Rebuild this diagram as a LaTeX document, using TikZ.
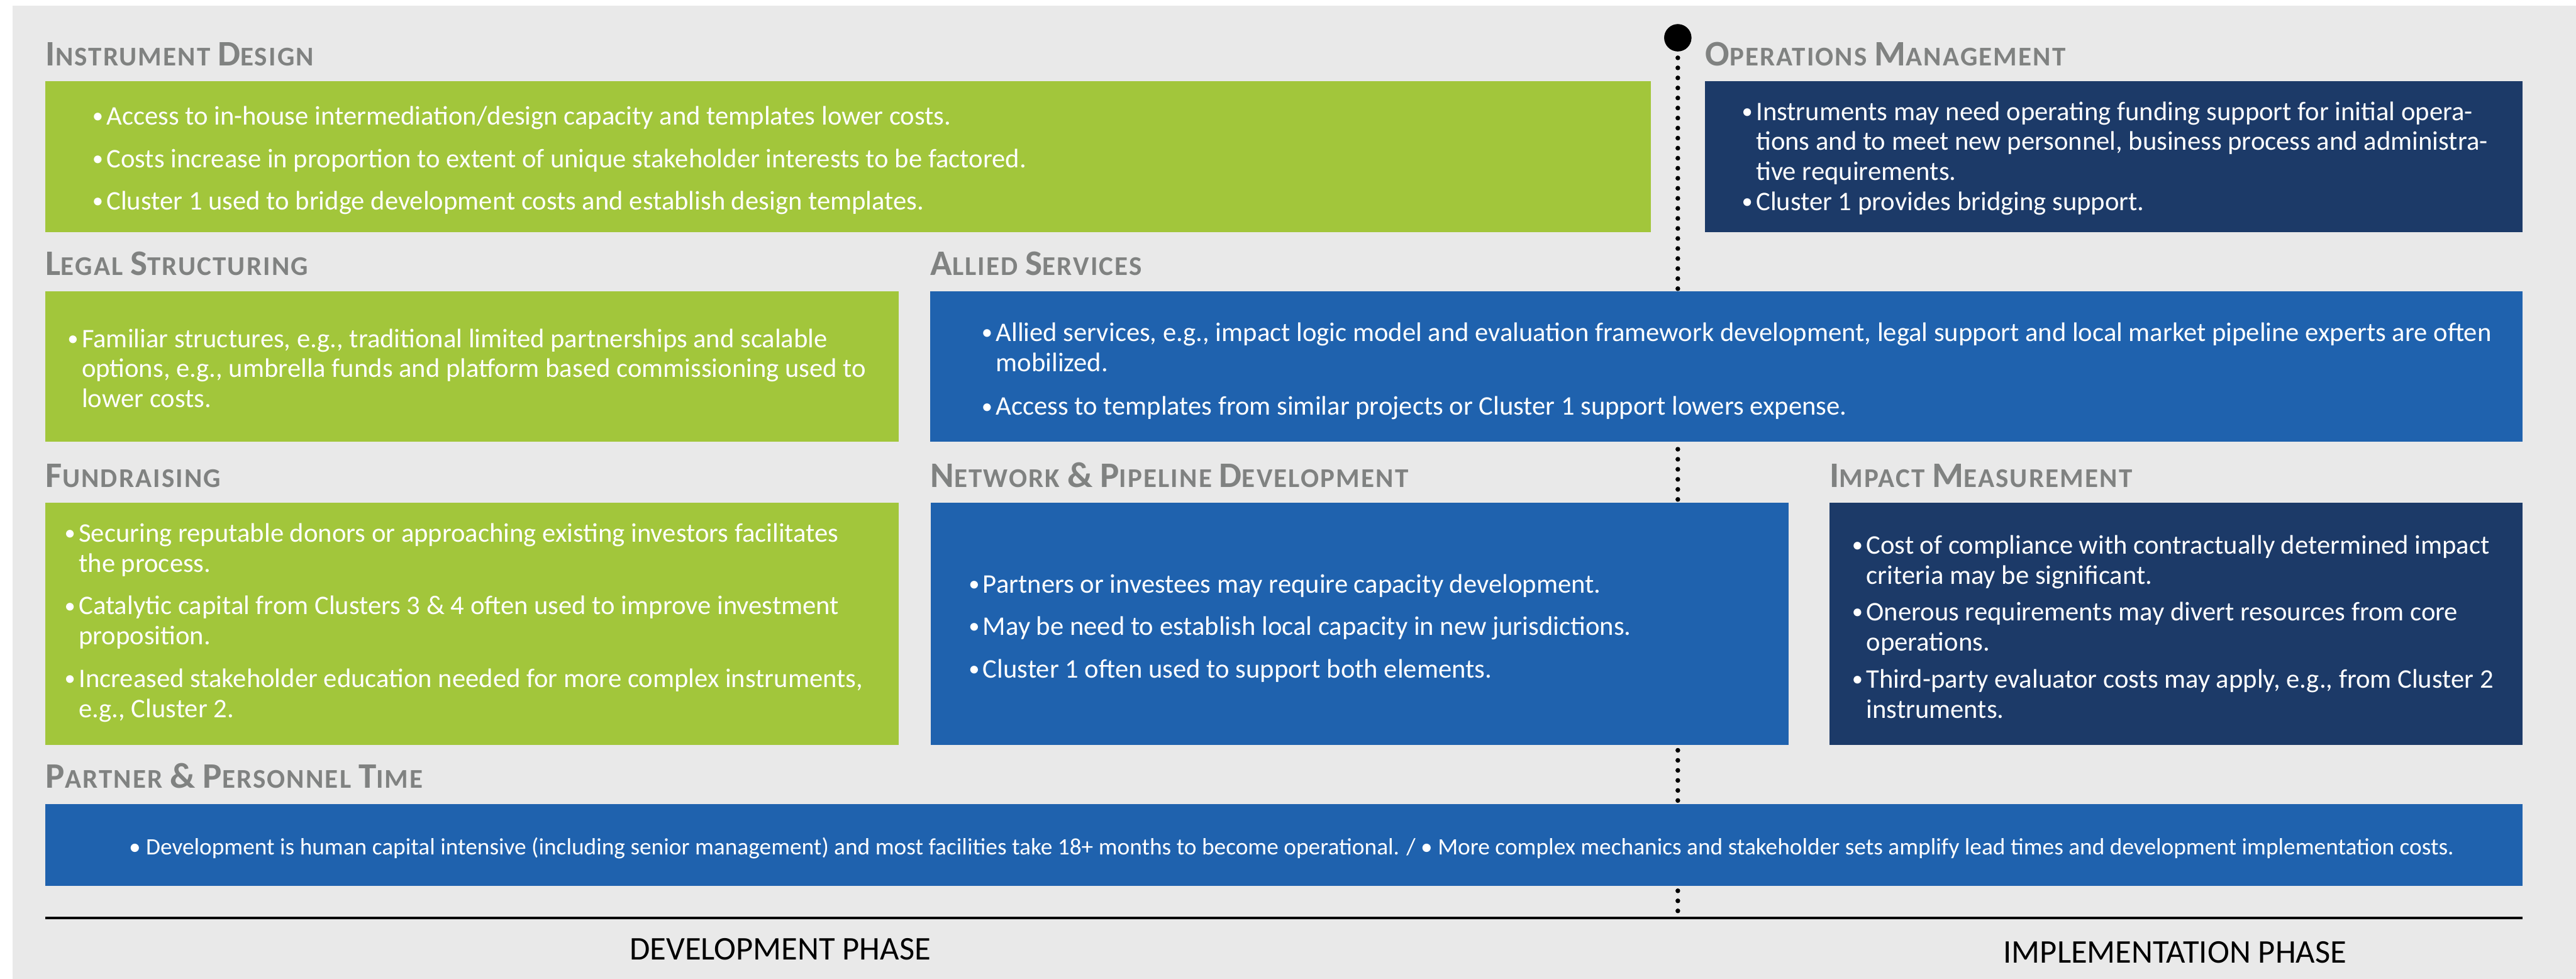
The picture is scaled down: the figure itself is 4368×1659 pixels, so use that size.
\documentclass[tikz,border=0pt]{standalone}
\usepackage{fontspec}
\setmainfont{Carlito}
\newfontfamily\headfont[LetterSpace=5.0]{Carlito}

\definecolor{canvas}{HTML}{E9E9E9}
\definecolor{leaf}{HTML}{A2C63B}
\definecolor{navy}{HTML}{1C3A68}
\definecolor{royal}{HTML}{1F62AE}
\definecolor{heading}{HTML}{808281}

% body text: white bullets with hanging indent
\newcommand\bodysize{\fontsize{12.93pt}{0.51cm}\selectfont}
\newcommand\bl{\makebox[0.3cm][c]{\raisebox{0.03cm}{\fontsize{10.5pt}{10pt}\selectfont •}}}
\newcommand\cont{\hspace*{0.3cm}}
\newcommand\fst{\rule{0pt}{0.4cm}}
% headings set as small capitals
\newcommand\headsize{\fontsize{13.05pt}{15pt}\selectfont}
\newcommand\hcap[1]{{\fontsize{17.3pt}{17pt}\selectfont #1}}

\tikzset{
  bodytext/.style={font=\bodysize, text=white, align=left, inner sep=0pt, anchor=north west},
  headtext/.style={font=\headfont\bfseries\headsize, text=heading, inner sep=0pt, anchor=base west},
  phase/.style={font=\fontsize{15.95pt}{18pt}\selectfont, text=black, inner sep=0pt, anchor=base},
  timeline/.style={line width=0.08cm, dash pattern=on 0pt off 0.17cm, line cap=round},
  milestone/.style={circle, fill=black, minimum size=0.46cm, inner sep=0pt},
}

\begin{document}
\begin{tikzpicture}[x=0.01cm, y=-0.01cm]
\useasboundingbox (0,0) rectangle (4368,1659);
\fill[canvas] (21,10) rectangle (4368,1659);

% phase divider, behind the panels
\coordinate (axis-l) at (77,1556);
\coordinate (axis-r) at (4277,1556);
\coordinate (divide-end) at (2845,1556);
\node[milestone] (divide-start) at (2845,64) {};
\draw[timeline] (divide-start.center) -- (divide-end);

% panels
\fill[leaf]  (77,138)   rectangle (2799,393);
\fill[navy]  (2891,138) rectangle (4277,393);
\fill[leaf]  (77,494)   rectangle (1524,749);
\fill[royal] (1577,494) rectangle (4277,749);
\fill[leaf]  (77,852)   rectangle (1524,1263);
\fill[royal] (1578,852) rectangle (3033,1263);
\fill[navy]  (3102,852) rectangle (4277,1263);
\fill[royal] (77,1363)  rectangle (4277,1502);

% milestone dot on top
\node[milestone] (divide-dot) at (divide-start) {};

% headings
\node[headtext] (h-inst)    at (77,111)   {\hcap{I}NSTRUMENT \hcap{D}ESIGN};
\node[headtext] (h-ops)     at (2891,111) {\hcap{O}PERATIONS \hcap{M}ANAGEMENT};
\node[headtext] (h-legal)   at (77,467)   {\hcap{L}EGAL \hcap{S}TRUCTURING};
\node[headtext] (h-allied)  at (1577,467) {\hcap{A}LLIED \hcap{S}ERVICES};
\node[headtext] (h-fund)    at (77,826)   {\hcap{F}UNDRAISING};
\node[headtext] (h-net)     at (1577,826) {\hcap{N}ETWORK \hcap{\&} \hcap{P}IPELINE \hcap{D}EVELOPMENT};
\node[headtext] (h-impact)  at (3102,826) {\hcap{I}MPACT \hcap{M}EASUREMENT};
\node[headtext] (h-partner) at (77,1336)  {\hcap{P}ARTNER \hcap{\&} \hcap{P}ERSONNEL \hcap{T}IME};

% panel texts
\node[bodytext] (t-inst) at (150,171) {%
\fst\bl Access to in-house intermediation/design capacity and templates lower costs.\\[0.21cm]
\bl Costs increase in proportion to extent of unique stakeholder interests to be factored.\\[0.21cm]
\bl Cluster 1 used to bridge development costs and establish design templates.};

\node[bodytext] (t-ops) at (2947,163) {%
\fst\bl Instruments may need operating funding support for initial opera-\\
\cont tions and to meet new personnel, business process and administra-\\
\cont tive requirements.\\
\bl Cluster 1 provides bridging support.};

\node[bodytext] (t-legal) at (108,548) {%
\fst\bl Familiar structures, e.g., traditional limited partnerships and scalable\\
\cont options, e.g., umbrella funds and platform based commissioning used to\\
\cont lower costs.};

\node[bodytext] (t-allied) at (1658,538) {%
\fst\bl Allied services, e.g., impact logic model and evaluation framework development, legal support and local market pipeline experts are often\\
\cont mobilized.\\[0.23cm]
\bl Access to templates from similar projects or Cluster 1 support lowers expense.};

\node[bodytext] (t-fund) at (103,878) {%
\fst\bl Securing reputable donors or approaching existing investors facilitates\\
\cont the process.\\[0.21cm]
\bl Catalytic capital from Clusters 3 \& 4 often used to improve investment\\
\cont proposition.\\[0.21cm]
\bl Increased stakeholder education needed for more complex instruments,\\
\cont e.g., Cluster 2.};

\node[bodytext] (t-net) at (1636,964) {%
\fst\bl Partners or investees may require capacity development.\\[0.21cm]
\bl May be need to establish local capacity in new jurisdictions.\\[0.21cm]
\bl Cluster 1 often used to support both elements.};

\node[bodytext] (t-impact) at (3134,898) {%
\fst\bl Cost of compliance with contractually determined impact\\
\cont criteria may be significant.\\[0.11cm]
\bl Onerous requirements may divert resources from core\\
\cont operations.\\[0.12cm]
\bl Third-party evaluator costs may apply, e.g., from Cluster 2\\
\cont instruments.};

\node[font=\fontsize{11.33pt}{14pt}\selectfont, text=white, inner sep=0pt, anchor=base] (t-partner) at (2190,1449)
{• Development is human capital intensive (including senior management) and most facilities take 18+ months to become operational. / • More complex mechanics and stakeholder sets amplify lead times and development implementation costs.};

% phase axis
\draw[line width=0.045cm] (axis-l) -- (axis-r);
\node[phase] (p-dev) at (1323,1627) {DEVELOPMENT PHASE};
\node[phase] (p-imp) at (3688,1632) {IMPLEMENTATION PHASE};
\end{tikzpicture}
\end{document}
